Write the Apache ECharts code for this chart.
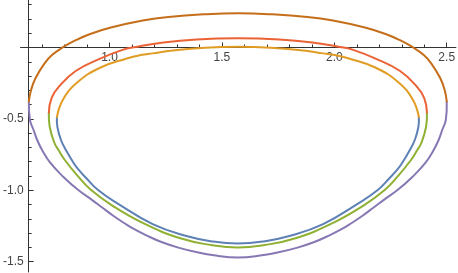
<!DOCTYPE html>
<html><head><meta charset="utf-8">
<script src="https://cdn.jsdelivr.net/npm/echarts@6/dist/echarts.min.js"></script>
<style>html,body{margin:0;padding:0;background:#fff}#c{width:458px;height:273px}</style>
</head><body><div id="c"></div><script>
const xMin = 0.604, xMax = 2.541, yMin = -1.573, yMax = 0.333;
const yAxisAtX = 0.640;
const xMajorTicks = [1.0, 1.5, 2.0, 2.5];
const xMinorTicks = [0.7, 0.8, 0.9, 1.0, 1.1, 1.2, 1.3, 1.4, 1.5, 1.6, 1.7, 1.8, 1.9, 2.0, 2.1, 2.2, 2.3, 2.4, 2.5];
const yMajorTicks = [-1.5, -1.0, -0.5];
const yMinorTicks = [-1.5, -1.4, -1.3, -1.2, -1.1, -1.0, -0.9, -0.8, -0.7, -0.6, -0.5, -0.4, -0.3, -0.2, -0.1, 0.1, 0.2, 0.3];

const innerBottom = [[0.766,-0.487],[0.768,-0.557],[0.784,-0.648],[0.806,-0.718],[0.841,-0.811],[0.863,-0.858],[0.896,-0.914],[0.949,-0.999],[1.035,-1.092],[1.192,-1.237],[1.342,-1.321],[1.456,-1.359],[1.571,-1.374],[1.686,-1.359],[1.800,-1.321],[1.950,-1.237],[2.107,-1.092],[2.193,-0.999],[2.246,-0.914],[2.279,-0.858],[2.301,-0.811],[2.336,-0.718],[2.358,-0.648],[2.374,-0.557],[2.376,-0.487]];
const innerTop = [[0.766,-0.487],[0.792,-0.368],[0.856,-0.245],[0.960,-0.140],[1.077,-0.077],[1.139,-0.053],[1.191,-0.041],[1.280,-0.021],[1.425,-0.001],[1.571,0.006],[1.717,-0.001],[1.862,-0.021],[1.951,-0.041],[2.003,-0.053],[2.065,-0.077],[2.182,-0.140],[2.286,-0.245],[2.350,-0.368],[2.376,-0.487]];
const middleBottom = [[0.730,-0.455],[0.734,-0.557],[0.755,-0.669],[0.773,-0.718],[0.801,-0.788],[0.861,-0.905],[0.918,-0.999],[1.009,-1.104],[1.152,-1.232],[1.315,-1.337],[1.452,-1.384],[1.571,-1.402],[1.690,-1.384],[1.827,-1.337],[1.990,-1.232],[2.133,-1.104],[2.224,-0.999],[2.281,-0.905],[2.341,-0.788],[2.369,-0.718],[2.387,-0.669],[2.408,-0.557],[2.412,-0.455]];
const middleTop = [[0.730,-0.455],[0.742,-0.354],[0.777,-0.270],[0.851,-0.163],[0.961,-0.076],[1.055,-0.018],[1.117,0.004],[1.240,0.036],[1.387,0.057],[1.571,0.065],[1.755,0.057],[1.902,0.036],[2.025,0.004],[2.087,-0.018],[2.181,-0.076],[2.291,-0.163],[2.365,-0.270],[2.400,-0.354],[2.412,-0.455]];
const outerBottom = [[0.641,-0.378],[0.646,-0.508],[0.662,-0.578],[0.678,-0.648],[0.700,-0.718],[0.737,-0.809],[0.795,-0.907],[0.861,-0.999],[0.923,-1.069],[0.967,-1.121],[1.015,-1.177],[1.068,-1.233],[1.112,-1.275],[1.161,-1.314],[1.231,-1.363],[1.306,-1.402],[1.395,-1.437],[1.456,-1.454],[1.571,-1.472],[1.686,-1.454],[1.747,-1.437],[1.836,-1.402],[1.911,-1.363],[1.981,-1.314],[2.030,-1.275],[2.074,-1.233],[2.127,-1.177],[2.175,-1.121],[2.219,-1.069],[2.281,-0.999],[2.347,-0.907],[2.405,-0.809],[2.442,-0.718],[2.464,-0.648],[2.480,-0.578],[2.496,-0.508],[2.500,-0.378]];
const outerTop = [[0.641,-0.378],[0.651,-0.298],[0.671,-0.214],[0.711,-0.111],[0.744,-0.053],[0.795,0.004],[0.852,0.053],[0.914,0.095],[1.006,0.140],[1.148,0.189],[1.262,0.214],[1.425,0.233],[1.571,0.240],[1.717,0.233],[1.880,0.214],[1.994,0.189],[2.136,0.140],[2.228,0.095],[2.290,0.053],[2.347,0.004],[2.398,-0.053],[2.431,-0.111],[2.471,-0.214],[2.491,-0.298],[2.500,-0.378]];

const seriesList = [
  {name: 'innerBottom', data: innerBottom, color: '#5E81B5'},
  {name: 'innerTop', data: innerTop, color: '#E19C24'},
  {name: 'middleBottom', data: middleBottom, color: '#8FB032'},
  {name: 'middleTop', data: middleTop, color: '#EB6235'},
  {name: 'outerBottom', data: outerBottom, color: '#8778B3'},
  {name: 'outerTop', data: outerTop, color: '#C56E1A'}
];

const chart = echarts.init(document.getElementById('c'), null, {renderer: 'canvas'});
const gridLeft = 18, gridW = 458 - 18 - 1, gridTop = 0, gridH = 273 - 0 - 1;
const yOffset = -(yAxisAtX - xMin) / (xMax - xMin) * gridW;
const xOffset = -(0 - yMin) / (yMax - yMin) * gridH;
const lineColor = '#333';
const labelStyle = {color: '#444', fontSize: 12, fontFamily: 'Liberation Sans, Arial, sans-serif'};
chart.setOption({
  animation: false,
  grid: {left: gridLeft, right: 1, top: gridTop, bottom: 1, containLabel: false},
  xAxis: [
    {type: 'value', min: xMin, max: xMax, position: 'bottom', offset: xOffset,
     axisLine: {show: true, onZero: false, lineStyle: {color: lineColor, width: 1}},
     axisTick: {show: true, inside: true, length: 3, customValues: xMinorTicks, lineStyle: {color: lineColor}},
     axisLabel: Object.assign({show: true, customValues: xMajorTicks, margin: 4, formatter: v => v.toFixed(1)}, labelStyle),
     splitLine: {show: false}},
    {type: 'value', min: xMin, max: xMax, position: 'bottom', offset: xOffset,
     axisLine: {show: false, onZero: false},
     axisTick: {show: true, inside: true, length: 5, customValues: xMajorTicks, lineStyle: {color: lineColor}},
     axisLabel: {show: false}, splitLine: {show: false}}
  ],
  yAxis: [
    {type: 'value', min: yMin, max: yMax, position: 'left', offset: yOffset,
     axisLine: {show: true, onZero: false, lineStyle: {color: lineColor, width: 1}},
     axisTick: {show: true, inside: true, length: 3, customValues: yMinorTicks, lineStyle: {color: lineColor}},
     axisLabel: Object.assign({show: true, customValues: yMajorTicks, margin: 5, formatter: v => v.toFixed(1)}, labelStyle),
     splitLine: {show: false}},
    {type: 'value', min: yMin, max: yMax, position: 'left', offset: yOffset,
     axisLine: {show: false, onZero: false},
     axisTick: {show: true, inside: true, length: 5, customValues: yMajorTicks, lineStyle: {color: lineColor}},
     axisLabel: {show: false}, splitLine: {show: false}}
  ],
  series: seriesList.map(s => ({
    type: 'custom', name: s.name, data: s.data, xAxisIndex: 0, yAxisIndex: 0,
    coordinateSystem: 'cartesian2d', clip: false,
    encode: {x: 0, y: 1},
    renderItem: function (params, api) {
      if (params.dataIndexInside !== 0) return null;
      const pts = s.data.map(p => api.coord(p));
      return {
        type: 'polyline',
        shape: {points: pts, smooth: 0.45},
        style: {stroke: s.color, lineWidth: 2, fill: null, lineJoin: 'round', lineCap: 'round'},
        silent: true
      };
    }
  }))
});
</script></body></html>
